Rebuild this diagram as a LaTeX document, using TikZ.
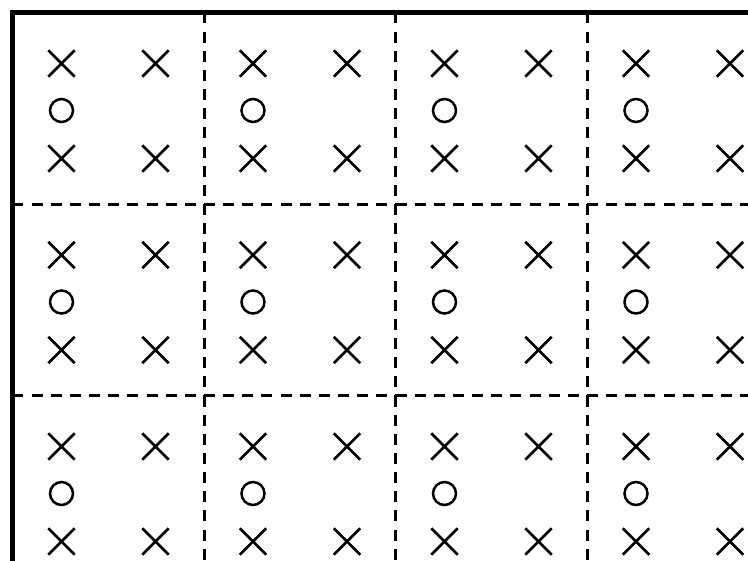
\documentclass[tikz,border=0pt]{standalone}
\usepackage{tikz}
\usetikzlibrary{shapes.misc,calc}

\begin{document}
\begin{tikzpicture}[
  x=0.02cm, y=-0.02cm,
  xmark/.style={draw,cross out,inner sep=0pt,minimum size=0.48cm,line width=0.05cm},
  omark/.style={draw,circle,inner sep=0pt,minimum size=0.46cm,line width=0.05cm},
  cellline/.style={line width=0.06cm,dash pattern=on 0.22cm off 0.163cm},
  wall/.style={line width=0.1cm,line cap=rect}
]
\useasboundingbox (0,0) rectangle (748,561);
\clip (0,0) rectangle (748,561);
% dashed cell edges, each started at its own corner
\foreach \c in {0,...,3} {
  \foreach \r in {0,...,2} {
    \coordinate (c-\c-\r) at (12.5+191.5*\c,12.5+191.5*\r);
    \ifnum\c>0 \draw[cellline] (c-\c-\r) -- ++(0,191.5); \fi
    \ifnum\r>0 \draw[cellline] (c-\c-\r) -- ++(191.5,0); \fi
    % symbols of the cell
    \node[xmark] (xa-\c-\r) at ($(c-\c-\r)+(49,51)$) {};
    \node[xmark] (xb-\c-\r) at ($(c-\c-\r)+(143,51)$) {};
    \node[omark] (o-\c-\r) at ($(c-\c-\r)+(49,98)$) {};
    \node[xmark] (xc-\c-\r) at ($(c-\c-\r)+(49,146)$) {};
    \node[xmark] (xd-\c-\r) at ($(c-\c-\r)+(143,146)$) {};
  }
}
% thick border, left and top
\draw[wall] (12.5,570) -- (c-0-0) -- (760,12.5);
\end{tikzpicture}
\end{document}
